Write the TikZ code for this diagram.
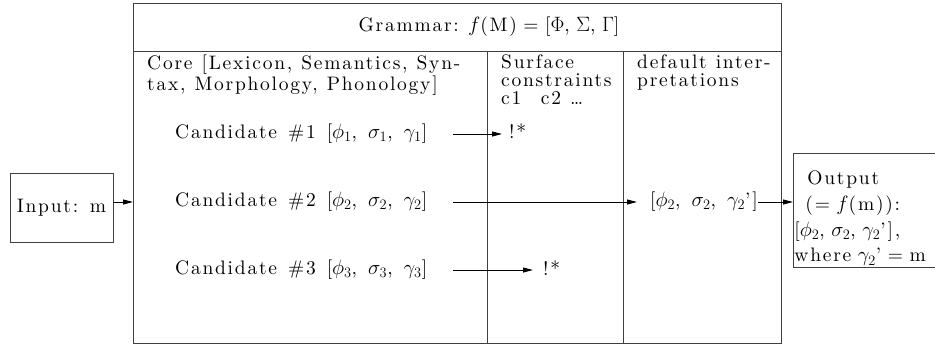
\documentclass[tikz,border=0pt]{standalone}
\usepackage{fontspec}
\setmainfont{lmroman10-regular.otf}[LetterSpace=9]
\usepackage{amsmath}
\usepackage{tikz}
\usetikzlibrary{arrows.meta,positioning}

\DeclareMathSizes{19.5}{19.5}{15.5}{12}
\newcommand{\diagfont}{\fontsize{19.5}{18}\selectfont\spaceskip=9pt plus 2pt minus 1pt}

\begin{document}
\begin{tikzpicture}[
  x=1pt, y=-1pt,
  frame/.style={draw=black!75, line width=0.9pt},
  txt/.style={inner sep=0pt, font=\diagfont, align=left},
  cand/.style={txt, anchor=west, font={\diagfont\spaceskip=11pt}},
  arr/.style={-{Triangle[length=10pt,width=5pt]}, line width=0.9pt},
]
\useasboundingbox (0,0) rectangle (935,349);

%% ── Grammar frame ────────────────────────────────────────────────
\node[frame, anchor=north west, inner sep=0pt,
      minimum width=648pt, minimum height=340pt] (grammar) at (133,3) {};
\coordinate (split) at (133,51);
\coordinate (colA)  at (487,51);
\coordinate (colB)  at (623,51);
\draw[frame] (split) -- (split -| grammar.east);
\draw[frame] (colA)  -- (colA |- grammar.south);
\draw[frame] (colB)  -- (colB |- grammar.south);

\node[txt, font={\diagfont\spaceskip=6.5pt}] (title) at (489,27)
      {Grammar: $f$(M) = [$\Phi$, $\Sigma$, $\Gamma$]};

%% ── Column heads ─────────────────────────────────────────────────
\node[txt, anchor=north west] (core)    at (147,55)
      {Core [Lexicon, Semantics, Syn-\\tax, Morphology, Phonology]};
\node[txt, anchor=north west] (surface) at (501,55)
      {Surface\\constraints\\c1\quad c2 \dots};
\node[txt, anchor=north west] (default) at (637,55)
      {default inter-\\pretations};

%% ── Input / output ───────────────────────────────────────────────
\node[frame, txt, minimum width=103pt, minimum height=69pt] (input) at (61.5,207.5)
      {Input: m};
\node[frame, txt, anchor=north west, inner xsep=1pt, minimum height=114pt,
      text width=170pt, font={\diagfont\setlength{\baselineskip}{25.7pt}}] (outbox) at (793,153)
      {\rule{0pt}{30pt}\hspace*{13pt}Output\\\hspace*{11pt}(= $f$(m)):\\{[}$\phi_2$, $\sigma_2$, $\gamma_2$'],\\where $\gamma_2$' = m};

%% ── Candidates ───────────────────────────────────────────────────
\node[cand] (cand1) at (175,134) {Candidate \#1 [$\phi_1$, $\sigma_1$, $\gamma_1$]};
\node[cand] (cand2) at (175,202) {Candidate \#2 [$\phi_2$, $\sigma_2$, $\gamma_2$]};
\node[cand] (cand3) at (175,270) {Candidate \#3 [$\phi_3$, $\sigma_3$, $\gamma_3$]};

\node[txt, anchor=west]  (fail1)  at (509,131) {!*};
\node[cand, anchor=west] (interp) at (650,202) {[$\phi_2$, $\sigma_2$, $\gamma_2$']};
\node[txt, anchor=west]  (fail3)  at (543,268) {!*};

%% ── Arrows ───────────────────────────────────────────────────────
\coordinate (armstart) at (453,0);
\draw[arr] (input.east |- cand2) -- (grammar.west |- cand2);
\draw[arr, shorten >=7pt]  (armstart |- cand1) -- (fail1.west |- cand1);
\draw[arr, shorten >=13pt] (armstart |- cand2) -- (interp.west);
\draw[arr, shorten >=10pt] (armstart |- cand3) -- (fail3.west |- cand3);
\draw[arr] (interp.east) -- (outbox.west |- interp);

\end{tikzpicture}
\end{document}
